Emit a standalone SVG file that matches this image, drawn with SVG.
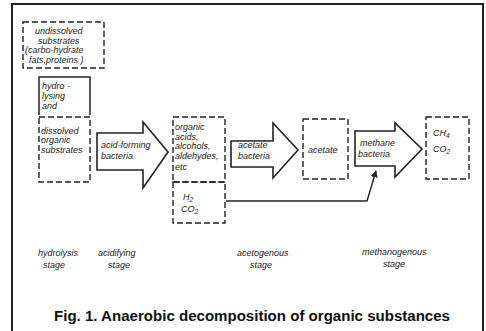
<svg xmlns="http://www.w3.org/2000/svg" width="486" height="331" viewBox="0 0 486 331">
<style>
.t{font-family:"Liberation Sans",Arial,sans-serif;font-style:italic;font-size:9px;fill:#222}
.dash{fill:none;stroke:#222;stroke-width:1.4;stroke-dasharray:6,3}
.solid{fill:none;stroke:#222;stroke-width:1.5}
.arrow{fill:#fff;stroke:#222;stroke-width:1.6;stroke-linejoin:miter}
.cap{font-family:"Liberation Sans",Arial,sans-serif;font-weight:bold;font-size:14px;fill:#111}
</style>
<defs>
<marker id="ah" viewBox="0 0 10 10" refX="9" refY="5" markerWidth="7" markerHeight="7" orient="auto" markerUnits="userSpaceOnUse">
<path d="M0,0 L10,5 L0,10 z" fill="#222"/>
</marker>
</defs>
<rect width="486" height="331" fill="#fff"/>
<path d="M12,334 V4 H483 V334" fill="none" stroke="#222" stroke-width="2"/>

<g id="undissolved">
<rect class="dash" x="23" y="22" width="81" height="46"/>
<text class="t" x="35" y="34">undissolved</text>
<text class="t" x="38" y="44">substrates</text>
<text class="t" x="25" y="53">(carbo-hydrate</text>
<text class="t" x="29" y="63">fats,proteins )</text>
</g>

<g id="hydrolysing">
<path class="solid" d="M39,115 V77 H90 V115"/>
<text class="t" x="42" y="89">hydro -</text>
<text class="t" x="42" y="99">lysing</text>
<text class="t" x="42" y="109">and</text>
</g>

<g id="dissolved">
<rect class="dash" x="39" y="117" width="51" height="65"/>
<text class="t" x="41" y="134">dissolved</text>
<text class="t" x="41" y="143">organic</text>
<text class="t" x="41" y="153">substrates</text>
</g>

<g id="acid-forming">
<path class="arrow" d="M97,133 H143 V122 L168,152 L143,188 V170 H97 Z"/>
<text class="t" x="101" y="148">acid-forming</text>
<text class="t" x="101" y="159">bacteria</text>
</g>

<g id="organic-acids">
<rect class="dash" x="173" y="117" width="52" height="65"/>
<text class="t" x="175" y="130">organic</text>
<text class="t" x="175" y="140">acids,</text>
<text class="t" x="175" y="149">alcohols,</text>
<text class="t" x="175" y="159">aldehydes,</text>
<text class="t" x="175" y="170">etc</text>
</g>

<g id="h2-co2">
<rect class="dash" x="173" y="182" width="52" height="41"/>
<text class="t" x="183" y="200">H<tspan font-size="6.5" dy="2">2</tspan></text>
<text class="t" x="181" y="212">CO<tspan font-size="6.5" dy="2">2</tspan></text>
</g>

<g id="acetate-bacteria">
<path class="arrow" d="M231,141 H273 V123 L298,150 L273,178 V167 H231 Z"/>
<text class="t" x="238" y="148">acetate</text>
<text class="t" x="238" y="159">bacteria</text>
</g>

<g id="acetate">
<rect class="dash" x="303" y="119" width="45" height="60"/>
<text class="t" x="308" y="153">acetate</text>
</g>

<g id="methane-bacteria">
<path class="arrow" d="M355,131 H395 V123 L422,149 L395,177 V166 H355 Z"/>
<text class="t" x="360" y="146">methane</text>
<text class="t" x="358" y="157">bacteria</text>
</g>

<g id="ch4-co2">
<rect class="dash" x="426" y="117" width="43" height="62"/>
<text class="t" x="433" y="136">CH<tspan font-size="6.5" dy="2">4</tspan></text>
<text class="t" x="433" y="152">CO<tspan font-size="6.5" dy="2">2</tspan></text>
</g>

<g id="connectors">
<path d="M226,201 H367 L376,171" fill="none" stroke="#222" stroke-width="1.4" marker-end="url(#ah)"/>
</g>

<g id="stages">
<text class="t" x="38" y="256">hydrolysis</text>
<text class="t" x="43" y="268">stage</text>
<text class="t" x="98" y="256">acidifying</text>
<text class="t" x="108" y="268">stage</text>
<text class="t" x="237" y="256">acetogenous</text>
<text class="t" x="250" y="268">stage</text>
<text class="t" x="362" y="255">methanogenous</text>
<text class="t" x="383" y="267">stage</text>
</g>

<text class="cap" x="54" y="321" textLength="396" lengthAdjust="spacingAndGlyphs">Fig. 1. Anaerobic decomposition of organic substances</text>
</svg>
